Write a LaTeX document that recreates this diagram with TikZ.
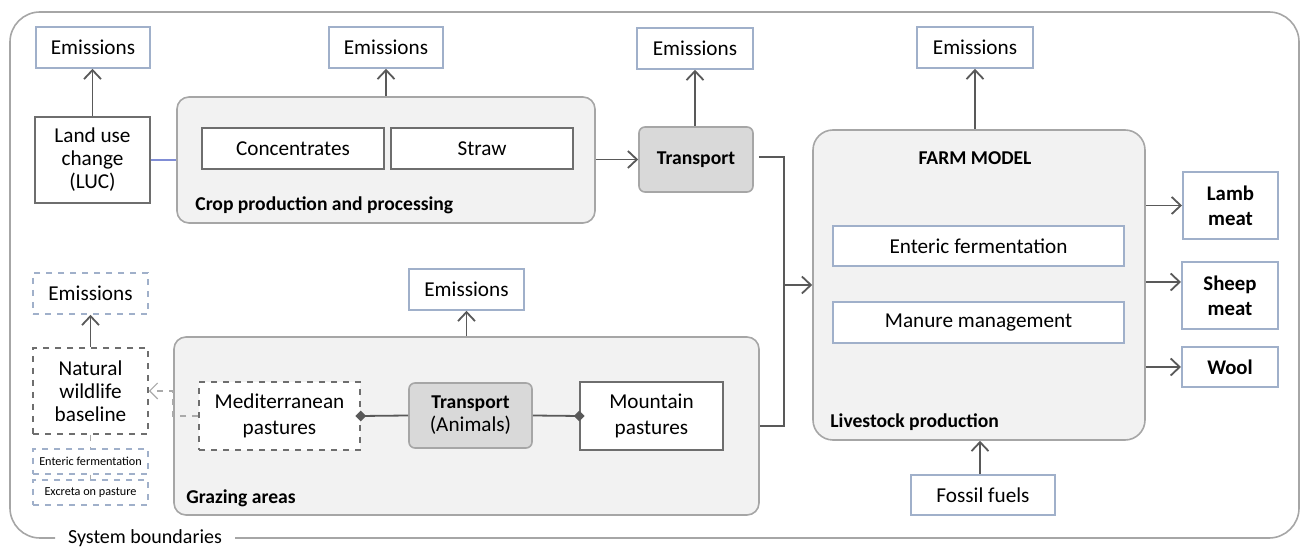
\documentclass[tikz,border=0pt]{standalone}
\usepackage{fontspec}
\setmainfont{Carlito}
\usetikzlibrary{arrows.meta,shapes.geometric}
\definecolor{bluegray}{RGB}{160,176,202}
\definecolor{boxgray}{RGB}{110,110,110}
\definecolor{contgray}{RGB}{166,166,166}
\definecolor{contfill}{RGB}{242,242,242}
\definecolor{trfill}{RGB}{217,217,217}
\definecolor{linegray}{RGB}{89,89,89}
\definecolor{dashgray}{RGB}{170,170,170}
\begin{document}
\begin{tikzpicture}[x=0.5pt,y=-0.5pt,
  txt/.style={font=\fontsize{10.6}{11.5}\selectfont, align=center, inner sep=0pt},
  embox/.style={txt, draw=bluegray, fill=white, line width=0.8pt},
  graybox/.style={txt, draw=boxgray, fill=white, line width=0.8pt},
  cont/.style={draw=contgray, fill=contfill, line width=0.8pt, rounded corners=6pt, inner sep=0pt},
  trbox/.style={txt, draw=contgray, fill=trfill, line width=0.8pt, rounded corners=3pt},
  outbox/.style={txt, draw=bluegray, fill=white, line width=1pt, font=\fontsize{10.4}{12.5}\selectfont\bfseries},
  contlabel/.style={font=\fontsize{9.8}{11}\selectfont\bfseries, inner sep=0pt},
  arr/.style={draw=linegray, line width=0.9pt, -{Straight Barb[length=4.5pt,width=8.5pt]}},
  conn/.style={draw=linegray, line width=0.9pt},
  dia/.style={diamond, fill=linegray, inner sep=0pt, minimum size=5.5pt},
  small/.style={font=\fontsize{6.1}{7}\selectfont, align=center, inner sep=0pt, draw=bluegray, dashed, fill=white, line width=0.6pt},
]
\useasboundingbox (0,0) rectangle (1301,549);
% system boundary
\draw[contgray, line width=0.8pt, rounded corners=15pt] (235,538) -- (1299,538) -- (1299,12) -- (10,12) -- (10,538) -- (55,538);
\node[txt, font=\fontsize{10}{11}\selectfont] (sysb) at (145,538) {System boundaries};

% containers
\node[cont, minimum width=209pt, minimum height=63pt] (crop) at (386,160) {};
\node[contlabel, anchor=west] (croplab) at (195,205) {Crop production and processing};
\node[cont, minimum width=292.5pt, minimum height=89pt] (graz) at (466.5,426) {};
\node[contlabel, anchor=west] (grazlab) at (186,498) {Grazing areas};
\node[cont, rounded corners=10pt, minimum width=166pt, minimum height=155pt] (farm) at (979,285) {};
\node[contlabel] (farmlab) at (975,158) {FARM MODEL};
\node[contlabel, anchor=west] (livlab) at (830,422) {Livestock production};

% emissions
\node[embox, minimum width=57pt, minimum height=20.5pt] (em1) at (93,47.5) {Emissions};
\node[embox, minimum width=57pt, minimum height=20.5pt] (em2) at (386,47.5) {Emissions};
\node[embox, minimum width=58pt, minimum height=20.5pt] (em3) at (695,48.5) {Emissions};
\node[embox, minimum width=58pt, minimum height=20.5pt] (em4) at (975,47.5) {Emissions};
\node[embox, dashed, minimum width=57.5pt, minimum height=20.5pt] (em5) at (90.5,293.5) {Emissions};
\node[embox, minimum width=57.5pt, minimum height=20.5pt] (em6) at (466.5,289.5) {Emissions};

% top row
\node[graybox, minimum width=57.5pt, minimum height=43pt] (luc) at (92.5,160) {Land use\\change\\(LUC)};
\node[graybox, minimum width=91pt, minimum height=20.5pt] (conc) at (293,148.5) {Concentrates};
\node[graybox, minimum width=91pt, minimum height=20.5pt] (straw) at (482,148.5) {Straw};
\node[trbox, minimum width=57pt, minimum height=32.5pt, font=\fontsize{9.8}{11}\selectfont\bfseries] (tr) at (696,159.5) {Transport};

% farm inner
\node[embox, minimum width=145.5pt, minimum height=20pt] (ent) at (978.5,246) {Enteric fermentation};
\node[embox, minimum width=145.5pt, minimum height=20.5pt] (man) at (978.5,322.5) {Manure management};
\node[embox, minimum width=72pt, minimum height=20pt] (fos) at (983,495) {Fossil fuels};

% outputs
\node[outbox, minimum width=47.5pt, minimum height=33.5pt] (lamb) at (1230.5,205.5) {Lamb\\meat};
\node[outbox, minimum width=48pt, minimum height=33.5pt] (sheep) at (1230,295.5) {Sheep\\meat};
\node[outbox, minimum width=48pt, minimum height=20pt] (wool) at (1230,367) {Wool};

% grazing inner
\node[graybox, dashed, minimum width=80.5pt, minimum height=34pt, font=\fontsize{10.6}{13}\selectfont] (med) at (279.5,416) {Mediterranean\\pastures};
\node[trbox, minimum width=61.5pt, minimum height=32.5pt] (tra) at (470.5,415.5) {{\fontsize{9.8}{11}\selectfont\bfseries Transport}\\(Animals)};
\node[graybox, minimum width=71.5pt, minimum height=34pt, font=\fontsize{10.6}{13}\selectfont] (mount) at (651.5,416) {Mountain\\pastures};

% left dashed
\node[graybox, dashed, minimum width=57.5pt, minimum height=43pt] (nwb) at (90.5,391) {Natural\\wildlife\\baseline};
\node[small, minimum width=57.5pt, minimum height=12.5pt] (sent) at (90.5,461.5) {Enteric fermentation};
\node[small, minimum width=57.5pt, minimum height=12.5pt] (sexc) at (90.5,492.5) {Excreta on pasture};

% arrows to emissions
\draw[arr] (luc.north) -- (luc.north |- em1.south);
\draw[arr] (crop.north) -- (em2.south);
\draw[arr] (tr.north -| em3.south) -- (em3.south);
\draw[arr] (farm.north -| em4.south) -- (em4.south);
\draw[arr] (nwb.north) -- (em5.south);
\draw[arr] (graz.north) -- (graz.north |- em6.south);

% LUC blue link
\draw[bluegray!80!blue, line width=0.6pt] (luc.east) -- (luc.east -| crop.west);

% crop -> transport
\draw[arr] (crop.east |- tr.west) -- (tr.west);

% transport + mountain -> farm
\coordinate (jt) at (784,157);
\coordinate (jb) at (784,426);
\coordinate (jm) at (784,285);
\draw[conn] ([xshift=2.5pt]tr.east |- jt) -- (jt) -- (jb) -- (jb -| graz.east);
\draw[arr] (jm) -- (jm -| farm.west);

% fossil -> farm
\draw[arr] (fos.north -| 980,0) -- (farm.south -| 980,0);

% outputs
\draw[arr] (farm.east |- lamb.west) -- (lamb.west);
\draw[arr] (farm.east |- 0,282) -- (sheep.west |- 0,282);
\draw[arr] (farm.east |- wool.west) -- (wool.west);

% grazing links
\draw[conn] (tra.west) -- (med.east);
\draw[conn] (tra.east) -- (mount.west);
\node[dia] (d1) at (med.east) {};
\node[dia] (d2) at (mount.west) {};

% dashed med -> nwb
\coordinate (ja) at (173,416);
\coordinate (jc) at (173,391);
\draw[dashgray, dashed, line width=0.6pt, -{Straight Barb[length=4pt,width=8pt]}] (med.west) -- (ja) -- (jc) -- (nwb.east);

% small connections
\draw[dashgray, dashed, line width=0.6pt] (nwb.south) -- (sent.north);
\draw[dashgray, dashed, line width=0.6pt] (sent.south) -- (sexc.north);
\end{tikzpicture}
\end{document}
